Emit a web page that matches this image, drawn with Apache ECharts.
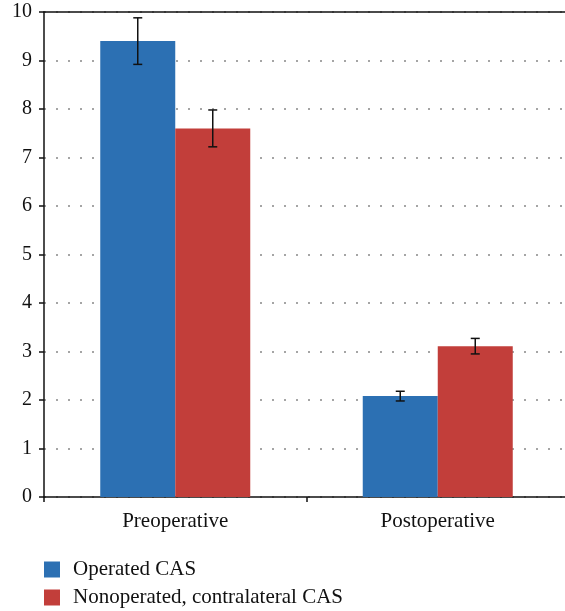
<!DOCTYPE html>
<html>
<head>
<meta charset="utf-8">
<script src="https://cdn.jsdelivr.net/npm/echarts@6/dist/echarts.min.js"></script>
<style>
  html, body { margin: 0; padding: 0; background: #fff; }
  #chart { width: 565px; height: 611px; }
</style>
</head>
<body>
<div id="chart"></div>
<script>
// values
const categories = ['Preoperative', 'Postoperative']
const seriesNames = ['Operated CAS', 'Nonoperated, contralateral CAS']
const operatedMean = [9.4, 2.08]
const operatedErr = [0.48, 0.1]
const nonoperatedMean = [7.6, 3.11]
const nonoperatedErr = [0.38, 0.16]
const yTicks = [0, 1, 2, 3, 4, 5, 6, 7, 8, 9, 10]

const BLUE = '#2c70b3'
const RED = '#c23e3a'
const FONT = 'Liberation Serif'
const BAR_W = 75

const chart = echarts.init(document.getElementById('chart'))

const errData = (mean, err) => mean.map((m, i) => [i, m - err[i], m + err[i]])

const errSeries = (name, mean, err, offset) => ({
  name: name,
  type: 'custom',
  z: 5,
  silent: true,
  data: errData(mean, err),
  encode: { x: 0, y: [1, 2] },
  renderItem: (params, api) => {
    const lo = api.coord([api.value(0), api.value(1)])
    const hi = api.coord([api.value(0), api.value(2)])
    const x = lo[0] + offset
    const cap = 4.5
    const style = { stroke: '#111', lineWidth: 1.5 }
    return {
      type: 'group',
      children: [
        { type: 'line', shape: { x1: x, y1: lo[1], x2: x, y2: hi[1] }, style },
        { type: 'line', shape: { x1: x - cap, y1: lo[1], x2: x + cap, y2: lo[1] }, style },
        { type: 'line', shape: { x1: x - cap, y1: hi[1], x2: x + cap, y2: hi[1] }, style }
      ]
    }
  }
})

const option = {
  animation: false,
  textStyle: { fontFamily: FONT },
  grid: { left: 44, width: 525, top: 12, height: 485, outerBoundsMode: 'none', containLabel: false },
  legend: {
    data: seriesNames,
    orient: 'vertical',
    left: 44,
    top: 559,
    height: 52,
    itemWidth: 16,
    itemHeight: 16,
    itemGap: 7,
    padding: 0,
    icon: 'rect',
    textStyle: { fontFamily: FONT, fontSize: 21, lineHeight: 20, color: '#111', padding: [0, 0, 0, 8] }
  },
  xAxis: [
    {
      type: 'category',
      data: categories,
      axisLine: { lineStyle: { color: '#111', width: 1.5 } },
      axisTick: { show: true, length: 5, lineStyle: { color: '#111', width: 1.5 } },
      axisLabel: { fontFamily: FONT, fontSize: 21, color: '#111', margin: 14 }
    },
    {
      type: 'category',
      data: categories,
      position: 'top',
      axisLine: { lineStyle: { color: '#111', width: 1.5 } },
      axisTick: { show: false },
      axisLabel: { show: false }
    }
  ],
  yAxis: {
    type: 'value',
    min: yTicks[0],
    max: yTicks[yTicks.length - 1],
    interval: 1,
    axisLine: { show: true, lineStyle: { color: '#111', width: 1.5 } },
    axisTick: { show: true, length: 5, lineStyle: { color: '#111', width: 1.5 } },
    axisLabel: { fontFamily: FONT, fontSize: 20, color: '#111', margin: 12 },
    splitLine: {
      show: true,
      lineStyle: { color: '#888', width: 1.5, type: [2, 10] }
    }
  },
  series: [
    {
      name: seriesNames[0],
      type: 'bar',
      data: operatedMean,
      barWidth: BAR_W,
      barGap: '0%',
      itemStyle: { color: BLUE }
    },
    {
      name: seriesNames[1],
      type: 'bar',
      data: nonoperatedMean,
      barWidth: BAR_W,
      barGap: '0%',
      itemStyle: { color: RED }
    },
    errSeries('err-op', operatedMean, operatedErr, -BAR_W / 2),
    errSeries('err-nonop', nonoperatedMean, nonoperatedErr, BAR_W / 2)
  ]
}

chart.setOption(option)
</script>
</body>
</html>
